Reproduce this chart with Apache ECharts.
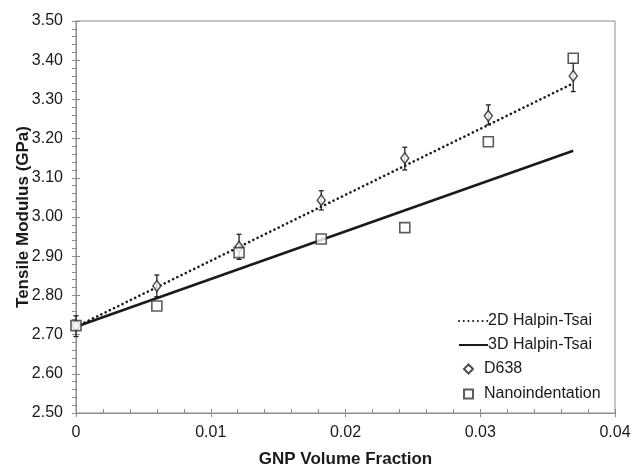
<!DOCTYPE html>
<html>
<head>
<meta charset="utf-8">
<script src="https://cdn.jsdelivr.net/npm/echarts@6/dist/echarts.min.js"></script>
<style>
  html, body { margin: 0; padding: 0; background: #fff; }
  #main { width: 632px; height: 465px; }
</style>
</head>
<body>
<div id="main"></div>
<script>
// measured points
var xPts = [0, 0.006, 0.0121, 0.0182, 0.0244, 0.0306, 0.0369];
var d638 = [2.723, 2.824, 2.924, 3.043, 3.150, 3.258, 3.360];
var d638Low = [2.695, 2.797, 2.892, 3.018, 3.120, 3.235, 3.320];
var d638High = [2.748, 2.852, 2.956, 3.067, 3.178, 3.286, 3.392];
var nano = [2.723, 2.773, 2.909, 2.944, 2.973, 3.192, 3.405];

// model lines
var xModel = [0, 0.0369];
var halpin2D = [2.72, 3.341];
var halpin3D = [2.72, 3.169];

var font = '"Liberation Sans", Arial, sans-serif';
var axisGray = '#8c8c8c';
var ink = '#1a1a1a';

function zip(xs, ys) {
  return xs.map(function (x, i) { return [x, ys[i]]; });
}

var errData = xPts.map(function (x, i) { return [x, d638Low[i], d638High[i]]; });

function xFmt(v) { return v === 0 ? '0' : v.toFixed(2); }
function yFmt(v) { return v.toFixed(2); }

var chart = echarts.init(document.getElementById('main'));

var baseX = { type: 'value', min: 0, max: 0.04, interval: 0.01, position: 'bottom' };
var baseY = { type: 'value', min: 2.5, max: 3.5, interval: 0.1, position: 'left' };
var legendText = { fontFamily: font, fontSize: 16, color: ink };

chart.setOption({
  animation: false,
  grid: {
    left: 76, right: 17, top: 21, bottom: 52,
    outerBoundsMode: 'none',
    containLabel: false,
    show: true, borderColor: axisGray, borderWidth: 1
  },
  xAxis: [
    Object.assign({}, baseX, {
      name: 'GNP Volume Fraction',
      nameLocation: 'middle',
      nameGap: 38,
      nameTextStyle: { fontFamily: font, fontWeight: 'bold', fontSize: 17, color: ink },
      axisLine: { lineStyle: { color: axisGray, width: 1 } },
      axisTick: { show: true, inside: false, length: 4, lineStyle: { color: axisGray } },
      axisLabel: { formatter: xFmt, margin: 12, fontFamily: font, fontSize: 16, color: ink },
      splitLine: { show: false }
    }),
    Object.assign({}, baseX, {
      axisLine: { show: false },
      axisTick: { show: true, inside: true, length: 4, lineStyle: { color: axisGray } },
      minorTick: { show: true, splitNumber: 5, length: 4, lineStyle: { color: axisGray } },
      axisLabel: { show: false },
      splitLine: { show: false }
    })
  ],
  yAxis: [
    Object.assign({}, baseY, {
      name: 'Tensile Modulus (GPa)',
      nameLocation: 'middle',
      nameGap: 44,
      nameMoveOverlap: false,
      nameTextStyle: { fontFamily: font, fontWeight: 'bold', fontSize: 17, color: ink },
      axisLine: { show: true, lineStyle: { color: axisGray, width: 1 } },
      axisTick: { show: true, inside: false, length: 4, lineStyle: { color: axisGray } },
      minorTick: { show: true, splitNumber: 5, length: 4, lineStyle: { color: axisGray } },
      axisLabel: { formatter: yFmt, margin: 13, fontFamily: font, fontSize: 16, color: ink },
      splitLine: { show: false }
    }),
    Object.assign({}, baseY, {
      axisLine: { show: false },
      axisTick: { show: true, inside: true, length: 4, lineStyle: { color: axisGray } },
      axisLabel: { show: false },
      splitLine: { show: false }
    })
  ],
  legend: [
    {
      orient: 'vertical',
      left: 453,
      top: 308,
      itemWidth: 29,
      itemHeight: 9,
      itemGap: 8,
      textStyle: Object.assign({ padding: [0, 0, 0, -5] }, legendText),
      data: [
        { name: '2D Halpin-Tsai', itemStyle: { opacity: 0 } },
        { name: '3D Halpin-Tsai', itemStyle: { opacity: 0 } }
      ]
    },
    {
      orient: 'vertical',
      left: 458,
      top: 356,
      itemWidth: 9,
      itemHeight: 9,
      itemGap: 9,
      textStyle: Object.assign({ padding: [0, 0, 0, 6] }, legendText),
      data: [
        { name: 'D638', icon: 'diamond' },
        { name: 'Nanoindentation', icon: 'rect' }
      ]
    }
  ],
  series: [
    {
      name: '2D Halpin-Tsai',
      type: 'line',
      data: zip(xModel, halpin2D),
      symbol: 'none',
      z: 2,
      lineStyle: { color: ink, width: 2.6, type: [0.1, 4.6], cap: 'round' },
      itemStyle: { color: ink }
    },
    {
      name: '3D Halpin-Tsai',
      type: 'line',
      data: zip(xModel, halpin3D),
      symbol: 'none',
      z: 2,
      lineStyle: { color: ink, width: 2.6, type: 'solid' },
      itemStyle: { color: ink }
    },
    {
      name: 'D638 err',
      type: 'custom',
      data: errData,
      z: 3,
      renderItem: function (params, api) {
        var x = api.value(0);
        var lo = api.coord([x, api.value(1)]);
        var hi = api.coord([x, api.value(2)]);
        var cap = 2.5;
        var st = { stroke: '#222', lineWidth: 1.3 };
        return {
          type: 'group',
          children: [
            { type: 'line', shape: { x1: lo[0], y1: lo[1], x2: hi[0], y2: hi[1] }, style: st },
            { type: 'line', shape: { x1: lo[0] - cap, y1: lo[1], x2: lo[0] + cap, y2: lo[1] }, style: st },
            { type: 'line', shape: { x1: hi[0] - cap, y1: hi[1], x2: hi[0] + cap, y2: hi[1] }, style: st }
          ]
        };
      }
    },
    {
      name: 'D638',
      type: 'scatter',
      data: zip(xPts, d638),
      symbol: 'diamond',
      symbolSize: [8, 11],
      z: 4,
      itemStyle: { color: '#fff', borderColor: '#222', borderWidth: 1.5 }
    },
    {
      name: 'Nanoindentation',
      type: 'scatter',
      data: zip(xPts, nano),
      symbol: 'rect',
      symbolSize: 10,
      z: 4,
      itemStyle: { color: '#fff', borderColor: '#333', borderWidth: 1.6 }
    }
  ]
});
</script>
</body>
</html>
